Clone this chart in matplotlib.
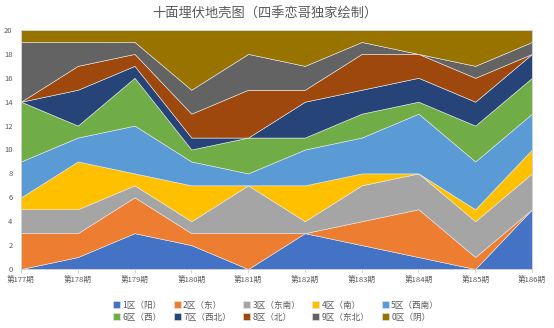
import numpy as np
import matplotlib
matplotlib.use('Agg')
import matplotlib.pyplot as plt

plt.rcParams['font.family'] = ['Noto Sans CJK SC', 'DejaVu Sans']

periods = ['第177期', '第178期', '第179期', '第180期', '第181期',
           '第182期', '第183期', '第184期', '第185期', '第186期']
zones = ['1区（阳）', '2区（东）', '3区（东南）', '4区（南）', '5区（西南）',
         '6区（西）', '7区（西北）', '8区（北）', '9区（东北）', '0区（阴）']

# counts per zone, one value per period
z1 = [0, 1, 3, 2, 0, 3, 2, 1, 0, 5]
z2 = [3, 2, 3, 1, 3, 0, 2, 4, 1, 0]
z3 = [2, 2, 1, 1, 4, 1, 3, 3, 3, 3]
z4 = [1, 4, 1, 3, 0, 3, 1, 0, 1, 2]
z5 = [3, 2, 4, 2, 1, 3, 3, 5, 4, 3]
z6 = [5, 1, 4, 1, 3, 1, 2, 1, 3, 3]
z7 = [0, 3, 1, 1, 0, 3, 2, 2, 2, 2]
z8 = [0, 2, 1, 2, 4, 1, 3, 2, 2, 0]
z9 = [5, 2, 1, 2, 3, 2, 1, 0, 1, 1]
z0 = [1, 1, 1, 5, 2, 3, 1, 2, 3, 1]

colors = ['#4472C4', '#ED7D31', '#A5A5A5', '#FFC000', '#5B9BD5',
          '#70AD47', '#264478', '#9E480E', '#636363', '#997300']

fig = plt.figure(figsize=(5.54, 3.28), dpi=100)
ax = fig.add_axes([21 / 554, 1 - 269 / 328, 511 / 554, 239 / 328])

x = np.arange(len(periods))
ys = [z1, z2, z3, z4, z5, z6, z7, z8, z9, z0]
polys = ax.stackplot(x, *ys, colors=colors, labels=zones,
                     edgecolor='#e8e8e8', linewidth=0.4)

ax.set_xlim(0, len(periods) - 1)
ax.set_ylim(0, 20)
ax.set_yticks(range(0, 21, 2))
ax.set_xticks(x)
ax.set_xticklabels(periods)
ax.tick_params(axis='x', labelsize=5.5, colors='#595959', length=3,
               width=0.6, pad=3, direction='out')
ax.tick_params(axis='x', color='#d0d0d0')
ax.tick_params(axis='y', labelsize=5.5, colors='#595959', length=0, pad=6)
for s in ax.spines.values():
    s.set_color('#d0d0d0')
    s.set_linewidth(0.6)

fig.text(265 / 554, 1 - 14 / 328, '十面埋伏地壳图（四季恋哥独家绘制）',
         ha='center', va='center', fontsize=9.5, color='#595959')

# legend fills column by column, so reorder to read row by row
order = [0, 5, 1, 6, 2, 7, 3, 8, 4, 9]
leg = fig.legend(handles=[polys[i] for i in order],
                 labels=[zones[i] for i in order], ncol=5, loc='center',
                 bbox_to_anchor=(276 / 554, 1 - 311 / 328), frameon=False,
                 fontsize=6.2, handlelength=0.8, handleheight=0.8,
                 handletextpad=0.3, columnspacing=1.4, labelspacing=0.35,
                 labelcolor='#595959', borderpad=0)

fig.savefig('out.png', dpi=100)
